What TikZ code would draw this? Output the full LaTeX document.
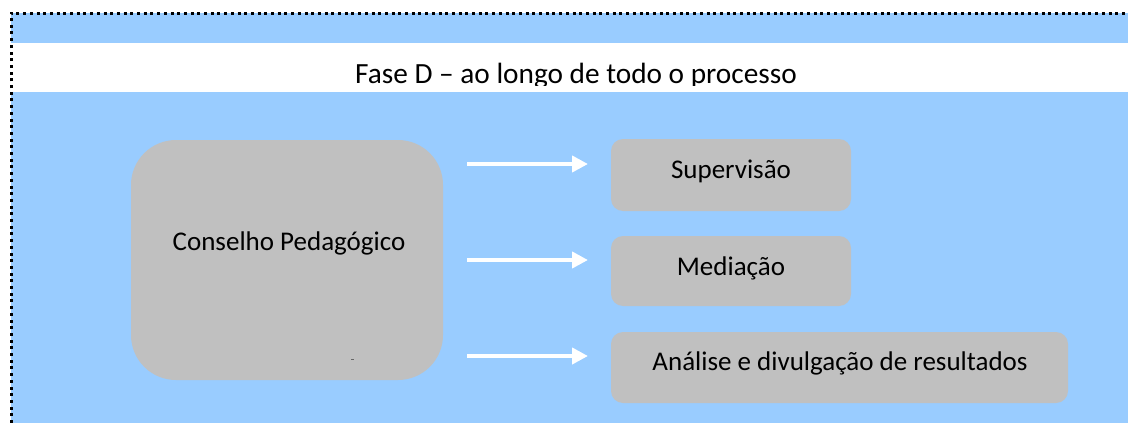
\documentclass[tikz,border=0pt]{standalone}
\usepackage{fontspec}
\setmainfont{Carlito}
\usetikzlibrary{arrows.meta}
\definecolor{bgblue}{HTML}{99CCFF}
\definecolor{boxgray}{HTML}{C0C0C0}
\begin{document}
\begin{tikzpicture}[x=1pt,y=-1pt,
  box/.style={fill=boxgray,draw=none,rounded corners=12pt},
  lbl/.style={font=\fontsize{27}{32}\selectfont,text=black},
  wharrow/.style={draw=white,line width=4.7pt,-{Triangle[length=16pt,width=16pt]}}]
\useasboundingbox (0,0) rectangle (1128,423);
\fill[bgblue] (11,13) rectangle (1128,423);
\fill[white] (11,43) rectangle (1128,92);
\begin{scope}
\clip (11,43) rectangle (1128,85);
\node[font=\fontsize{29.3}{34}\selectfont,anchor=base] (title) at (576,83) {Fase D – ao longo de todo o processo};
\end{scope}
\draw[line width=3pt,dash pattern=on 3pt off 3.7pt] (11,423) -- (11,13) -- (1128,13);
\fill[boxgray,rounded corners=45pt] (131,140) rectangle (443,380);
\node[lbl] (cp) at (289,243) {Conselho Pedagógico};
\fill[gray!80!black] (351,358.5) rectangle (354,359.5);
\fill[box] (611,139) rectangle (851,211);
\node[lbl] (sup) at (731,171) {Supervisão};
\fill[box] (611,236) rectangle (851,306);
\node[lbl] (med) at (731,268) {Mediação};
\fill[box] (611,332) rectangle (1068,403);
\node[lbl] (ana) at (840,363) {Análise e divulgação de resultados};
\coordinate (a1s) at (467,164); \coordinate (a1e) at (588,164);
\coordinate (a2s) at (467,260); \coordinate (a2e) at (588,260);
\coordinate (a3s) at (467,356); \coordinate (a3e) at (588,356);
\draw[wharrow] (a1s) -- (a1e);
\draw[wharrow] (a2s) -- (a2e);
\draw[wharrow] (a3s) -- (a3e);
\end{tikzpicture}
\end{document}
